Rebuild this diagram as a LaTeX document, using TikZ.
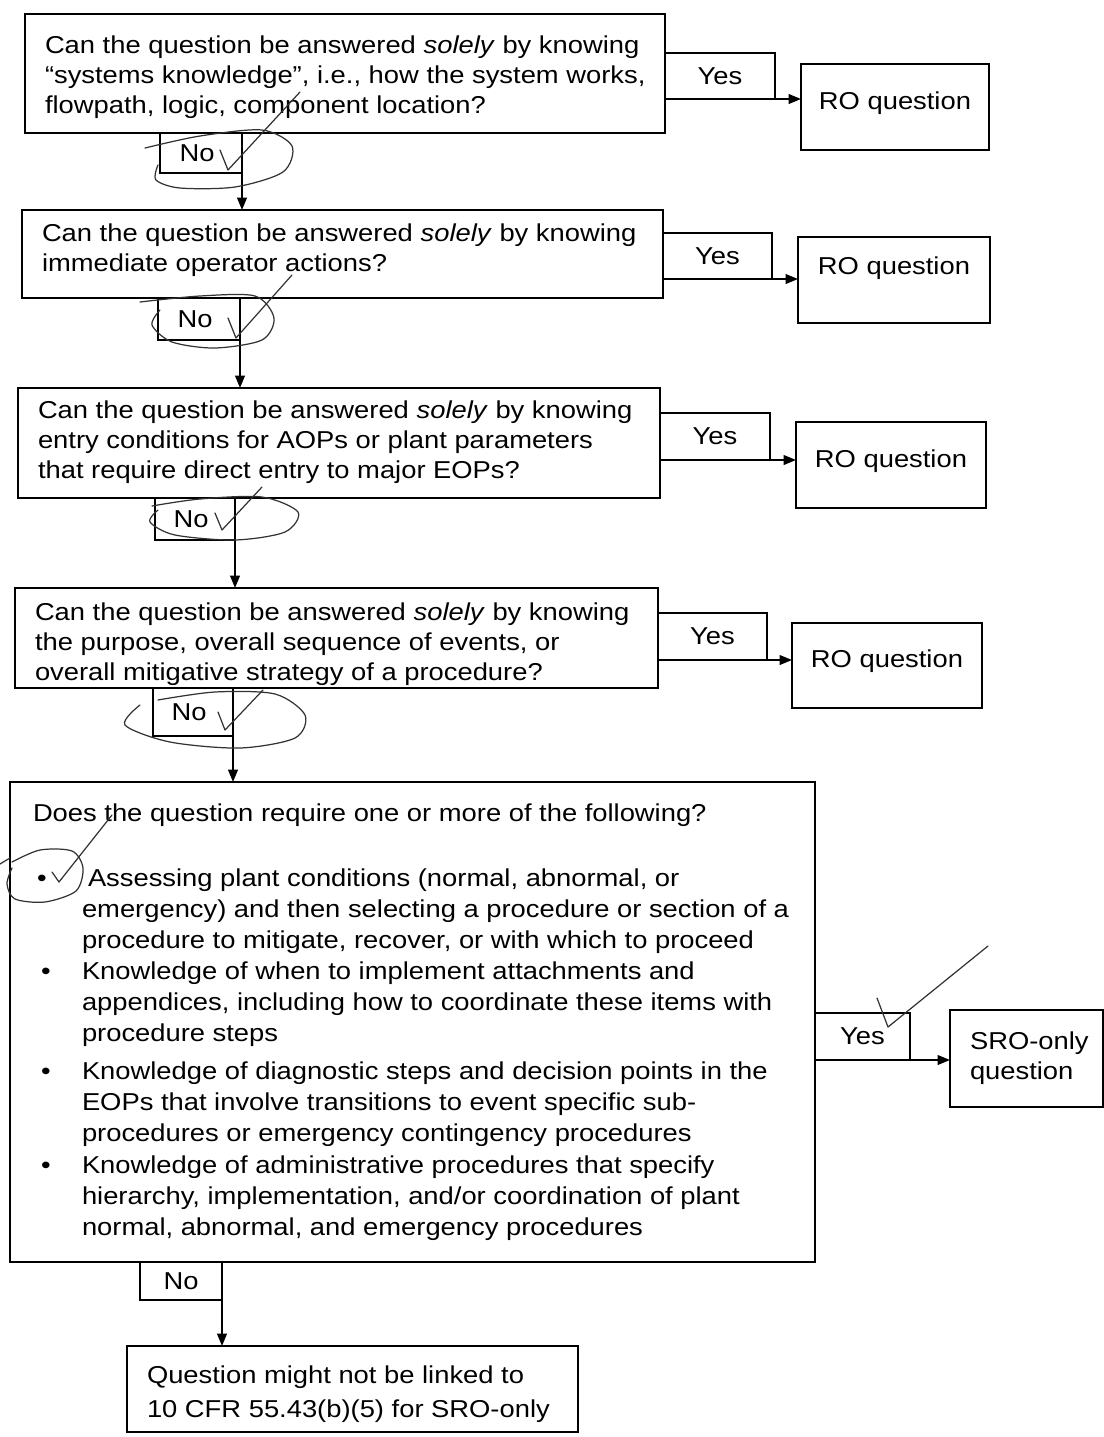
\documentclass[tikz,border=0pt]{standalone}
\usepackage{fontspec}
\setmainfont{Liberation Sans}[FakeStretch=1.12]
\usetikzlibrary{arrows.meta,fit}
\begin{document}
\begin{tikzpicture}[x=0.02cm,y=-0.02cm,
  every node/.style={inner sep=0pt, outer sep=0pt},
  box/.style={draw, line width=1.2pt},
  lbl/.style={draw, line width=1pt},
  txt/.style={anchor=north west, align=left, font=\fontsize{13.9}{17}\selectfont},
  btxt/.style={anchor=north west, align=left, font=\fontsize{13.9}{17.7}\selectfont},
  word/.style={anchor=base, font=\fontsize{13.9}{17}\selectfont},
  ctr/.style={anchor=center, font=\fontsize{13.9}{17}\selectfont},
  flow/.style={line width=1pt, -{Triangle[length=7pt,width=5.5pt]}},
  pen/.style={line width=0.7pt, black!80, line cap=round, line join=round}]
\useasboundingbox (0,0) rectangle (1104,1437);

% ---------- question boxes ----------
\node[box, fit={(25,14)(665,133)}] (q1) {};
\node[txt] (q1t) at (45,36) {Can the question be answered \textit{solely} by knowing\\
  ``systems knowledge'', i.e., how the system works,\\
  flowpath, logic, component location?};

\node[box, fit={(22,210)(663,298)}] (q2) {};
\node[txt] (q2t) at (42,224) {Can the question be answered \textit{solely} by knowing\\
  immediate operator actions?};

\node[box, fit={(18,388)(660,498)}] (q3) {};
\node[txt] (q3t) at (38,401) {Can the question be answered \textit{solely} by knowing\\
  entry conditions for AOPs or plant parameters\\
  that require direct entry to major EOPs?};

\node[box, fit={(15,588)(658,688)}] (q4) {};
\node[txt] (q4t) at (35,603) {Can the question be answered \textit{solely} by knowing\\
  the purpose, overall sequence of events, or\\
  overall mitigative strategy of a procedure?};

\node[box, fit={(10,782)(815,1262)}] (q5) {};
\node[txt] (q5t) at (33,804) {Does the question require one or more of the following?};
\node[btxt] (b1t) at (88,869) {Assessing plant conditions (normal, abnormal, or\\
  \hspace*{-3.4pt}emergency) and then selecting a procedure or section of a\\
  \hspace*{-3.4pt}procedure to mitigate, recover, or with which to proceed};
\node[btxt] (b2t) at (82,962) {Knowledge of when to implement attachments and\\
  appendices, including how to coordinate these items with\\
  procedure steps};
\node[btxt] (b3t) at (82,1062) {Knowledge of diagnostic steps and decision points in the\\
  EOPs that involve transitions to event specific sub-\\
  procedures or emergency contingency procedures};
\node[btxt] (b4t) at (82,1156) {Knowledge of administrative procedures that specify\\
  hierarchy, implementation, and/or coordination of plant\\
  normal, abnormal, and emergency procedures};
\node[word] (b1) at (42,886) {\textbullet};
\node[word] (b2) at (46,979) {\textbullet};
\node[word] (b3) at (46,1079) {\textbullet};
\node[word] (b4) at (46,1173) {\textbullet};

% ---------- outcome boxes ----------
\node[box, fit={(801,64)(989,150)}] (r1) {};
\node[word] (r1t) at (895,109) {RO question};
\node[box, fit={(798,237)(990,323)}] (r2) {};
\node[word] (r2t) at (894,274) {RO question};
\node[box, fit={(796,422)(986,508)}] (r3) {};
\node[word] (r3t) at (891,467) {RO question};
\node[box, fit={(792,623)(982,708)}] (r4) {};
\node[word] (r4t) at (887,667) {RO question};
\node[box, fit={(950,1010)(1103,1107)}] (s5) {};
\node[txt] (s5t) at (970,1032) {SRO-only\\question};
\node[box, fit={(127,1346)(578,1432)}] (fin) {};
\node[anchor=north west, align=left, font=\fontsize{13.9}{19}\selectfont] (fint) at (147,1366)
  {Question might not be linked to\\10 CFR 55.43(b)(5) for SRO-only};

% ---------- branch labels ----------
\node[lbl, fit={(665,53)(775,99)}] (y1) {};
\node[ctr] (y1t) at (y1) {Yes};
\node[lbl, fit={(663,233)(772,279)}] (y2) {};
\node[ctr] (y2t) at (y2) {Yes};
\node[lbl, fit={(660,413)(770,460)}] (y3) {};
\node[ctr] (y3t) at (y3) {Yes};
\node[lbl, fit={(658,613)(767,660)}] (y4) {};
\node[ctr] (y4t) at (y4) {Yes};
\node[lbl, fit={(815,1013)(910,1060)}] (y5) {};
\node[ctr] (y5t) at (y5) {Yes};

\node[lbl, fit={(160,133)(242,173)}] (n1) {};
\node[ctr] (n1t) at ([xshift=-0.08cm]n1.center) {No};
\node[lbl, fit={(158,298)(240,340)}] (n2) {};
\node[ctr] (n2t) at ([xshift=-0.08cm]n2.center) {No};
\node[lbl, fit={(155,498)(235,540)}] (n3) {};
\node[ctr] (n3t) at ([xshift=-0.08cm]n3.center) {No};
\node[lbl, fit={(153,688)(233,736)}] (n4) {};
\node[ctr] (n4t) at ([xshift=-0.08cm]n4.center) {No};
\node[lbl, fit={(140,1262)(222,1300)}] (n5) {};
\node[ctr] (n5t) at (n5) {No};

% ---------- connectors ----------
\draw[flow] (y1.south west) -- (y1.south west -| r1.west);
\draw[flow] (y2.south west) -- (y2.south west -| r2.west);
\draw[flow] (y3.south west) -- (y3.south west -| r3.west);
\draw[flow] (y4.south west) -- (y4.south west -| r4.west);
\draw[flow] (y5.south west) -- (y5.south west -| s5.west);

\draw[flow] (n1.north east) -- (n1.north east |- q2.north);
\draw[flow] (n2.north east) -- (n2.north east |- q3.north);
\draw[flow] (n3.north east) -- (n3.north east |- q4.north);
\draw[flow] (n4.north east) -- (n4.north east |- q5.north);
\draw[flow] (n5.north east) -- (n5.north east |- fin.north);

% ---------- pen marks ----------
\draw[pen] plot[smooth] coordinates {(145,148) (200,136) (262,130) (292,146) (283,172) (235,187) (180,188) (156,180) (158,165)};
\draw[pen] (220,150) -- (228,170) -- (300,92);

\draw[pen] plot[smooth] coordinates {(140,302) (200,296) (255,296) (274,318) (262,340) (215,348) (172,342) (152,325) (160,310)};
\draw[pen] (228,318) -- (236,338) -- (292,275);

\draw[pen] plot[smooth] coordinates {(152,506) (200,499) (262,497) (298,512) (285,532) (235,540) (175,535) (150,522) (158,510)};
\draw[pen] (215,513) -- (222,530) -- (262,487);

\draw[pen] plot[smooth] coordinates {(158,700) (215,692) (275,694) (305,715) (295,738) (240,748) (170,742) (125,725) (140,705)};
\draw[pen] (218,712) -- (225,730) -- (263,690);

\draw[pen] plot[smooth] coordinates {(12,862) (40,850) (72,851) (83,868) (76,891) (45,902) (15,899) (7,884) (12,868)};
\draw[pen] (52,872) -- (59,882) -- (112,815);
\draw[pen] (0,864) -- (10,858);

\draw[pen] (877,998) -- (888,1027) -- (988,946);
\end{tikzpicture}
\end{document}
